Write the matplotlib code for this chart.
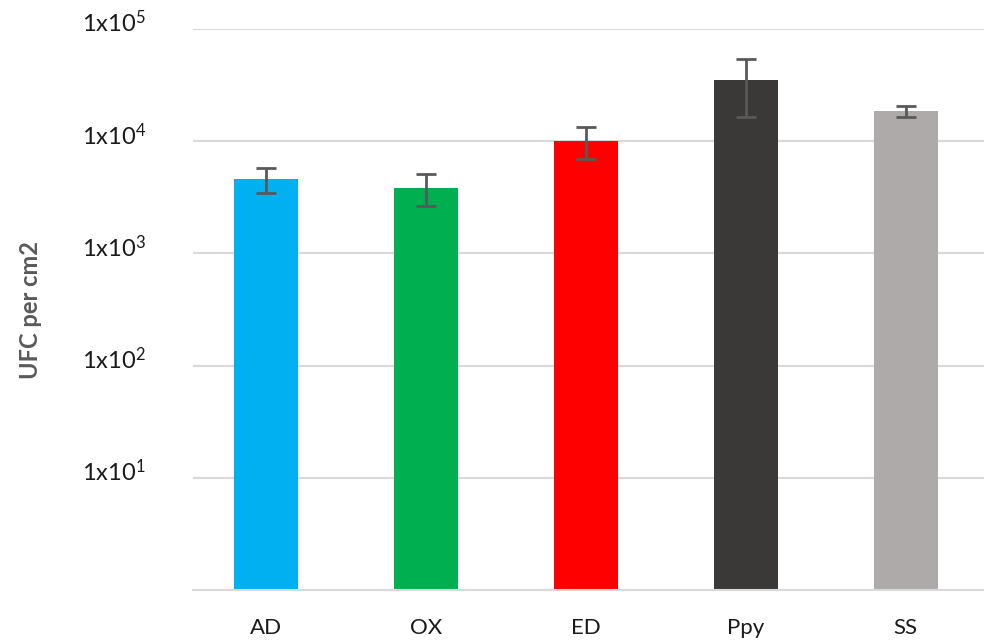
import numpy as np
import matplotlib.pyplot as plt
import matplotlib.transforms as mtransforms

# 数据
categories = ['AD', 'OX', 'ED', 'Ppy', 'SS']
means = [4580, 3830, 10070, 35000, 18400]
err_high = [5740, 5100, 13400, 53600, 20400]
err_low = [3480, 2650, 7000, 16500, 16500]
colors = ['#00B0F0', '#00B050', '#FF0000', '#3B3838', '#AEAAAA']
ytick_vals = [1e1, 1e2, 1e3, 1e4, 1e5]
ytick_labels = ['1x10$^{1}$', '1x10$^{2}$', '1x10$^{3}$', '1x10$^{4}$', '1x10$^{5}$']

plt.rcParams['font.family'] = ['Lato', 'DejaVu Sans']
plt.rcParams['mathtext.default'] = 'regular'

fig = plt.figure(figsize=(9.84, 6.4), dpi=100)
ax = fig.add_axes([0.196, 0.078, 0.804, 0.8767])

x = np.arange(len(categories))
means_arr = np.array(means)
yerr = [means_arr - np.array(err_low), np.array(err_high) - means_arr]

ax.bar(x, means, width=0.4, color=colors, zorder=2)
ax.errorbar(x, means, yerr=yerr, fmt='none', ecolor='#595959',
            elinewidth=2, capsize=7, capthick=2, zorder=3)

ax.set_yscale('log')
ax.set_ylim(1, 1e5)
ax.set_xlim(-0.456, 4.49)
ax.set_yticks(ytick_vals)
ax.set_yticklabels(ytick_labels, fontsize=17, color='#1a1a1a')
ax.yaxis.set_minor_locator(plt.NullLocator())
ax.set_xticks(x)
ax.set_xticklabels(categories, fontsize=16, color='#1a1a1a')
ax.tick_params(axis='y', length=0, pad=34)
ax.tick_params(axis='x', length=0, pad=20)

# 刻度标签略高于网格线（约 8 像素）
shift = mtransforms.ScaledTranslation(0, 0.08, fig.dpi_scale_trans)
for lbl in ax.get_yticklabels():
    lbl.set_transform(lbl.get_transform() + shift)

ax.grid(axis='y', color='#D9D9D9', linewidth=1.5, zorder=0)
for s in ['top', 'right', 'left']:
    ax.spines[s].set_visible(False)
ax.spines['bottom'].set_color('#D9D9D9')
ax.spines['bottom'].set_linewidth(1.5)

fig.text(0.031, 0.516, 'UFC per cm2', rotation=90, fontsize=17,
         fontweight='bold', color='#595959', ha='center', va='center')

fig.savefig('out.png', dpi=100)
